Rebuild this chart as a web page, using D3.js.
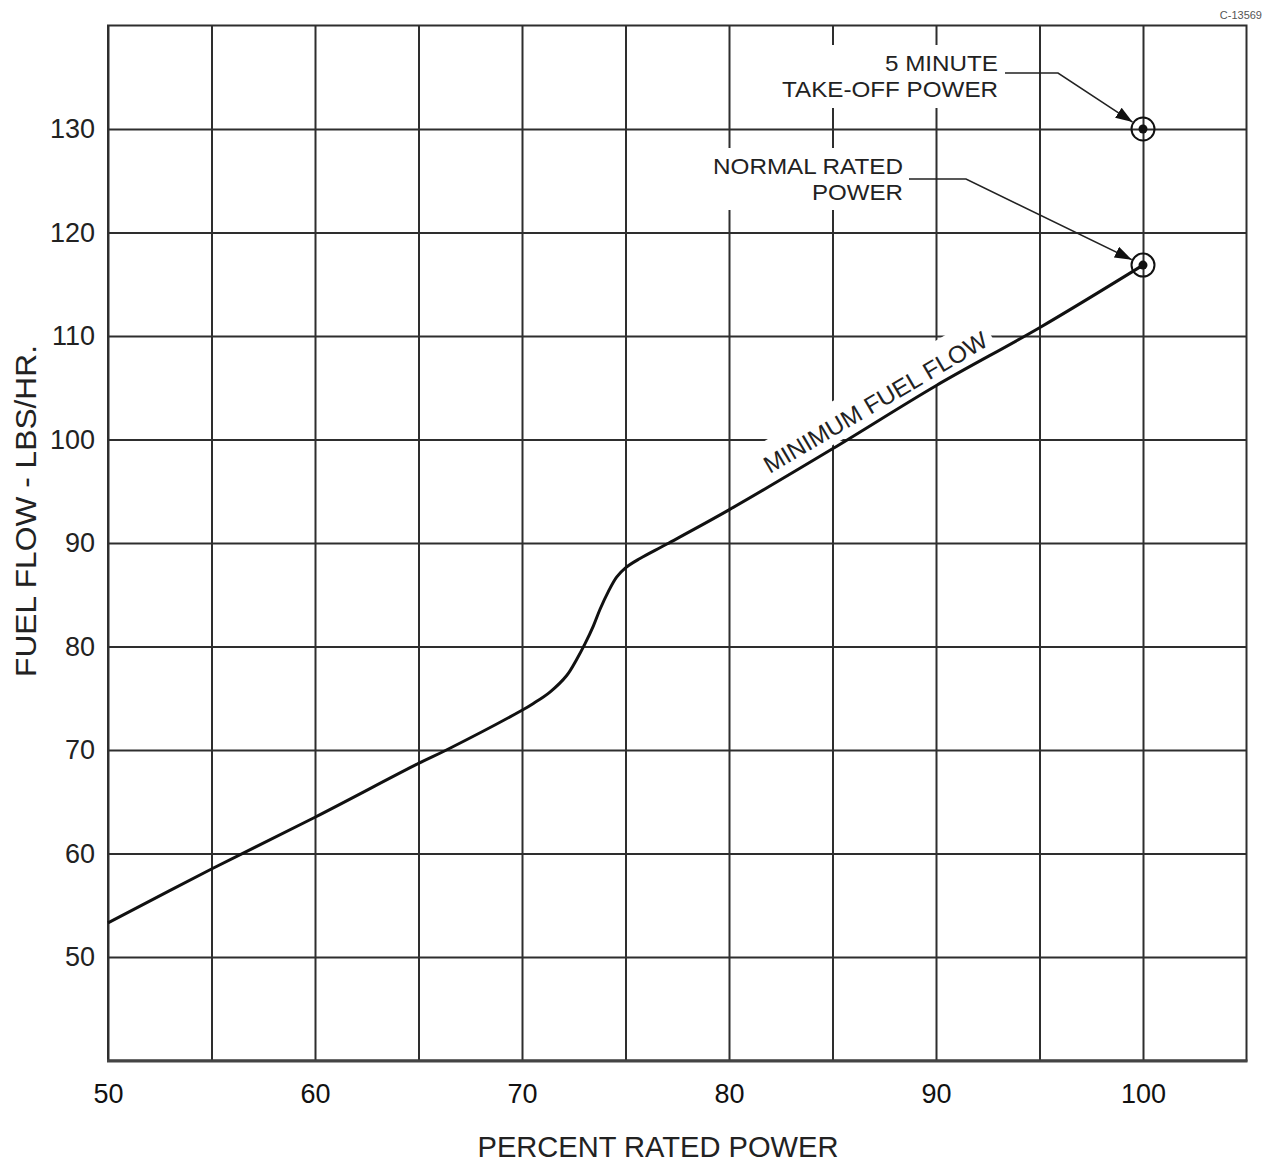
<!DOCTYPE html>
<html>
<head>
<meta charset="utf-8">
<script src="https://cdn.jsdelivr.net/npm/d3@7/dist/d3.min.js"></script>
<style>
  html, body { margin: 0; padding: 0; background: #fff; }
  svg { display: block; font-family: "Liberation Sans", Arial, sans-serif; }
</style>
</head>
<body>
<svg id="chart" width="1264" height="1165"></svg>
<script>
// ---------- data ----------
const powerPct = [50, 55, 60, 65, 66.35, 70, 70.55, 71.35, 72.16, 72.64, 73.04, 73.45, 73.77, 74.17, 74.57, 75, 75.7, 77, 80, 85, 90, 95, 100];
const fuelFlow = [53.3, 58.5, 63.5, 68.7, 70, 73.84, 74.5, 75.6, 77.2, 78.75, 80.25, 82.0, 83.6, 85.3, 86.7, 87.6, 88.5, 89.9, 93.2, 99.1, 105.2, 110.8, 116.85];

const xGridValues = [55, 60, 65, 70, 75, 80, 85, 90, 95, 100];
const xTickLabels = [50, 60, 70, 80, 90, 100];
const yTickValues = [50, 60, 70, 80, 90, 100, 110, 120, 130];

const ratingPower = [100, 100];
const ratingFlow = [130, 116.85];
const ratingLabels = [["5 MINUTE", "TAKE-OFF POWER"], ["NORMAL RATED", "POWER"]];

const xTitle = "PERCENT RATED POWER";
const yTitle = "FUEL FLOW - LBS/HR.";
const curveLabel = "MINIMUM FUEL FLOW";
const drawingId = "C-13569";

(function () {
// ---------- layout ----------
const svg = d3.select("#chart");
const pLeft = 108, pRight = 1246.5, pTop = 25.5, pBottom = 1060.5;
const x = d3.scaleLinear().domain([50, 105]).range([pLeft, pRight]);
const y = d3.scaleLinear().domain([40, 140]).range([pBottom, pTop]);
const gridColor = "#2e2e2e";

// vertical grid + x labels
const xAxis = d3.axisBottom(x)
  .tickValues([50].concat(xGridValues))
  .tickSizeInner(-(pBottom - pTop))
  .tickSizeOuter(0)
  .tickPadding(0)
  .tickFormat(d => xTickLabels.includes(d) ? String(d) : "");
const gx = svg.append("g").attr("transform", `translate(0,${pBottom})`).call(xAxis);
gx.select(".domain").remove();
gx.selectAll(".tick line").attr("stroke", gridColor).attr("stroke-width", 2);
gx.selectAll(".tick text")
  .attr("y", 42).attr("dy", 0)
  .attr("font-size", 27).attr("fill", "#111")
  .attr("font-family", "Liberation Sans, Arial, sans-serif");

// horizontal grid + y labels
const yAxis = d3.axisLeft(y)
  .tickValues(yTickValues)
  .tickSizeInner(-(pRight - pLeft))
  .tickSizeOuter(0)
  .tickPadding(13);
const gy = svg.append("g").attr("transform", `translate(${pLeft},0)`).call(yAxis);
gy.select(".domain").remove();
gy.selectAll(".tick line").attr("stroke", gridColor).attr("stroke-width", 2);
gy.selectAll(".tick text")
  .attr("font-size", 27).attr("fill", "#222")
  .attr("font-family", "Liberation Sans, Arial, sans-serif");

// frame
svg.append("rect")
  .attr("x", pLeft).attr("y", pTop)
  .attr("width", pRight - pLeft).attr("height", pBottom - pTop)
  .attr("fill", "none").attr("stroke", gridColor).attr("stroke-width", 2);
svg.append("line")
  .attr("x1", pLeft - 1).attr("x2", pRight + 1)
  .attr("y1", pBottom + 0.5).attr("y2", pBottom + 0.5)
  .attr("stroke", "#444").attr("stroke-width", 3);

// ---------- annotation halos ----------
const labelFont = 22;
const annot = [
  { lines: ratingLabels[0], xr: 998, base: [70.7, 97.3], len: [113, 216], box: [775, 45, 228, 63],
    leader: [[1005, 73], [1058, 73]] },
  { lines: ratingLabels[1], xr: 903, base: [174, 200], len: [190, 91], box: [705, 148, 204, 62],
    leader: [[909, 179], [966, 179]] }
];
annot.forEach(a => {
  svg.append("rect").attr("x", a.box[0]).attr("y", a.box[1])
    .attr("width", a.box[2]).attr("height", a.box[3]).attr("fill", "#fff");
});

// curve label halo (rotated along the curve)
const flowAt = d3.scaleLinear().domain(powerPct).range(fuelFlow);
const angle = Math.atan2(y(110.8) - y(93.2), x(95) - x(80)) * 180 / Math.PI;
const labelX = 87.5;
const labelLen = 255;
const gLab = svg.append("g")
  .attr("transform", `translate(${x(labelX)},${y(flowAt(labelX))}) rotate(${angle})`);
gLab.append("rect")
  .attr("x", -labelLen / 2 - 8).attr("y", -40)
  .attr("width", labelLen + 14).attr("height", 38)
  .attr("fill", "#fff");

// ---------- curve ----------
const line = d3.line()
  .x((d, i) => x(powerPct[i]))
  .y((d, i) => y(fuelFlow[i]))
  .curve(d3.curveCatmullRom.alpha(0.5));
svg.append("path")
  .datum(fuelFlow)
  .attr("d", line)
  .attr("fill", "none")
  .attr("stroke", "#111")
  .attr("stroke-width", 3)
  .attr("stroke-linejoin", "round");

gLab.append("text")
  .attr("x", 0).attr("y", -9)
  .attr("text-anchor", "middle")
  .attr("font-size", 24)
  .attr("fill", "#222")
  .attr("textLength", labelLen)
  .attr("lengthAdjust", "spacingAndGlyphs")
  .text(curveLabel);

// ---------- rating points ----------
const defs = svg.append("defs");
defs.append("marker")
  .attr("id", "arrow")
  .attr("viewBox", "0 0 17 12")
  .attr("refX", 17).attr("refY", 6)
  .attr("markerWidth", 17).attr("markerHeight", 12)
  .attr("markerUnits", "userSpaceOnUse")
  .attr("orient", "auto")
  .append("path").attr("d", "M0,0 L17,6 L0,12 Z").attr("fill", "#111");

ratingPower.forEach((p, i) => {
  const cx = x(p), cy = y(ratingFlow[i]);
  svg.append("circle").attr("cx", cx).attr("cy", cy).attr("r", 11.5)
    .attr("fill", "none").attr("stroke", "#111").attr("stroke-width", 2);
  svg.append("circle").attr("cx", cx).attr("cy", cy).attr("r", 4.5).attr("fill", "#111");

  const a = annot[i];
  a.lines.forEach((t, j) => {
    svg.append("text")
      .attr("x", a.xr).attr("y", a.base[j])
      .attr("text-anchor", "end")
      .attr("font-size", labelFont)
      .attr("fill", "#222")
      .attr("textLength", a.len[j])
      .attr("lengthAdjust", "spacingAndGlyphs")
      .text(t);
  });
  const [p0, p1] = a.leader;
  const dx = cx - p1[0], dy = cy - p1[1];
  const d = Math.hypot(dx, dy);
  const tip = [cx - dx / d * 12.5, cy - dy / d * 12.5];
  svg.append("path")
    .attr("d", `M${p0[0]},${p0[1]} L${p1[0]},${p1[1]} L${tip[0]},${tip[1]}`)
    .attr("fill", "none").attr("stroke", "#222").attr("stroke-width", 1.5)
    .attr("marker-end", "url(#arrow)");
});

// ---------- titles ----------
svg.append("text")
  .attr("x", 658).attr("y", 1157)
  .attr("text-anchor", "middle")
  .attr("font-size", 29).attr("fill", "#222")
  .attr("textLength", 361).attr("lengthAdjust", "spacingAndGlyphs")
  .text(xTitle);

svg.append("text")
  .attr("transform", "translate(36,511) rotate(-90)")
  .attr("text-anchor", "middle")
  .attr("font-size", 29).attr("fill", "#222")
  .attr("textLength", 332).attr("lengthAdjust", "spacingAndGlyphs")
  .text(yTitle);

svg.append("text")
  .attr("x", 1262).attr("y", 19)
  .attr("text-anchor", "end")
  .attr("font-size", 11).attr("fill", "#555")
  .text(drawingId);
})();
</script>
</body>
</html>
